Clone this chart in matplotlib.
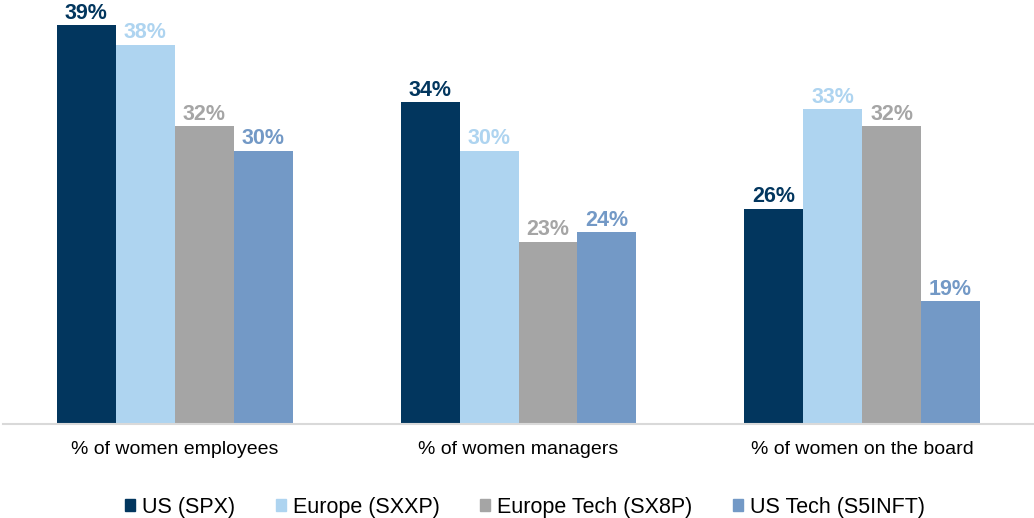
import matplotlib.pyplot as plt
import numpy as np
from matplotlib.patches import Patch

plt.rcParams['font.family'] = ['Liberation Sans', 'DejaVu Sans']

# data
categories = ["% of women employees", "% of women managers", "% of women on the board"]
series = ["US (SPX)", "Europe (SXXP)", "Europe Tech (SX8P)", "US Tech (S5INFT)"]
us_spx = [38.9, 33.3, 25.6]
europe_sxxp = [37.5, 29.8, 32.8]
europe_tech = [31.6, 23.2, 31.6]
us_tech = [29.8, 23.9, 18.9]
# labels as printed on the chart
us_spx_lbl = ["39%", "34%", "26%"]
europe_sxxp_lbl = ["38%", "30%", "33%"]
europe_tech_lbl = ["32%", "23%", "32%"]
us_tech_lbl = ["30%", "24%", "19%"]

colors = ["#02365E", "#AED4F0", "#A5A5A5", "#7399C6"]

fig = plt.figure(figsize=(10.34, 5.18), dpi=100)
ax = fig.add_axes([3 / 1034, 94 / 518, 1031 / 1034, 414 / 518])

x = np.arange(len(categories))
w = 0.1715
vals = [us_spx, europe_sxxp, europe_tech, us_tech]
lbls = [us_spx_lbl, europe_sxxp_lbl, europe_tech_lbl, us_tech_lbl]

for i in range(4):
    bars = ax.bar(x + (i - 1.5) * w, vals[i], w, bottom=0, color=colors[i], label=series[i])
    for b, t in zip(bars, lbls[i]):
        ax.annotate(t, (b.get_x() + b.get_width() / 2, b.get_height()),
                    xytext=(0, 1), textcoords="offset points",
                    ha="center", va="bottom", fontsize=15.5, fontweight="bold",
                    color=colors[i])

ax.set_ylim(10, 40)
ax.set_xlim(-0.5, 2.5)
ax.set_yticks([])
ax.set_xticks(x)
ax.set_xticklabels(categories, fontsize=14, color="#000000")
ax.tick_params(axis="x", length=0, pad=12)
for s in ["top", "right", "left"]:
    ax.spines[s].set_visible(False)
ax.spines["bottom"].set_color("#D9D9D9")
ax.spines["bottom"].set_linewidth(1.5)

handles = [Patch(color=c) for c in colors]
fig.legend(handles, series, loc="center", bbox_to_anchor=(525 / 1034, 1 - 507 / 518),
           ncol=4, frameon=False, fontsize=15.5, handlelength=0.47, handleheight=0.47,
           handletextpad=0.3, columnspacing=1.9)

fig.savefig("out.png", dpi=100)
